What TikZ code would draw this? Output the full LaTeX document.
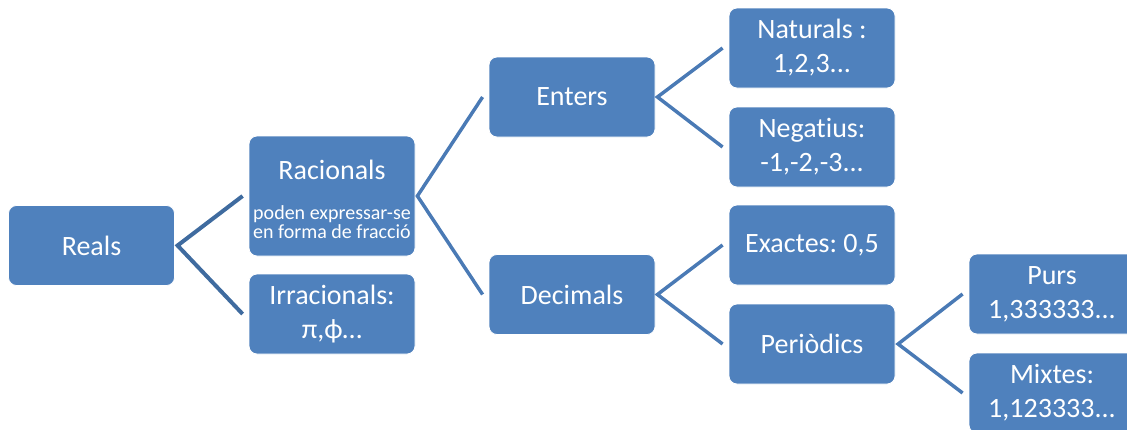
\documentclass[tikz,border=0pt]{standalone}
\usepackage{fontspec}
\setmainfont{Carlito}[Ligatures=NoCommon]
\frenchspacing
\definecolor{boxblue}{HTML}{4F81BD}
\definecolor{connA}{HTML}{3F6B9F}
\definecolor{connB}{HTML}{4A7AB5}
\newcommand{\smalltxt}{\fontsize{15}{14}\selectfont}
\begin{document}
\begin{tikzpicture}[x=0.75pt,y=-0.75pt,
  box/.style={fill=boxblue,draw=white,line width=0.6pt,rounded corners=6pt,
    minimum width=124.5pt,minimum height=60pt,inner sep=0pt,align=center,
    text=white,font=\fontsize{21}{25.5}\selectfont},
  linkA/.style={draw=connA,line width=3pt,line join=miter},
  linkB/.style={draw=connB,line width=2.6pt,line join=miter}]
\useasboundingbox (0,0) rectangle (1127,429);
\node[box] (reals) at (91.5,245.5) {Reals};
\node[box,minimum height=90pt] (racionals) at (332,196) {\rule{0pt}{24pt}Racionals\\[4pt]{\smalltxt\begin{tabular}[t]{@{}c@{}}poden expressar-se\\en forma de fracció\end{tabular}}};
\node[box] (irracionals) at (332,314) {Irracionals:\\π,ϕ…};
\node[box] (enters) at (572,97) {Enters};
\node[box] (decimals) at (572,294.5) {Decimals};
\node[box] (naturals) at (812,48) {Naturals :\\1,2,3...};
\node[box] (negatius) at (812,147) {Negatius:\\-1,-2,-3...};
\node[box] (exactes) at (812,245) {Exactes: 0,5};
\node[box] (periodics) at (812,344) {Periòdics};
\node[box] (purs) at (1052,294) {Purs\\1,333333...};
\node[box] (mixtes) at (1052,393) {Mixtes:\\1,123333...};
\draw[linkA] ([xshift=-4.5pt]racionals.west) -- ([xshift=2pt]reals.east) -- ([xshift=-4.5pt]irracionals.west);
\draw[linkB] ([xshift=-4.5pt]enters.west) -- ([xshift=1.5pt]racionals.east) -- ([xshift=-4.5pt]decimals.west);
\draw[linkB] ([xshift=-4.5pt]naturals.west) -- ([xshift=1.5pt]enters.east) -- ([xshift=-4.5pt]negatius.west);
\draw[linkB] ([xshift=-4.5pt]exactes.west) -- ([xshift=1.5pt]decimals.east) -- ([xshift=-4.5pt]periodics.west);
\draw[linkB] ([xshift=-4.5pt]purs.west) -- ([xshift=2pt]periodics.east) -- ([xshift=-4.5pt]mixtes.west);
\end{tikzpicture}
\end{document}
